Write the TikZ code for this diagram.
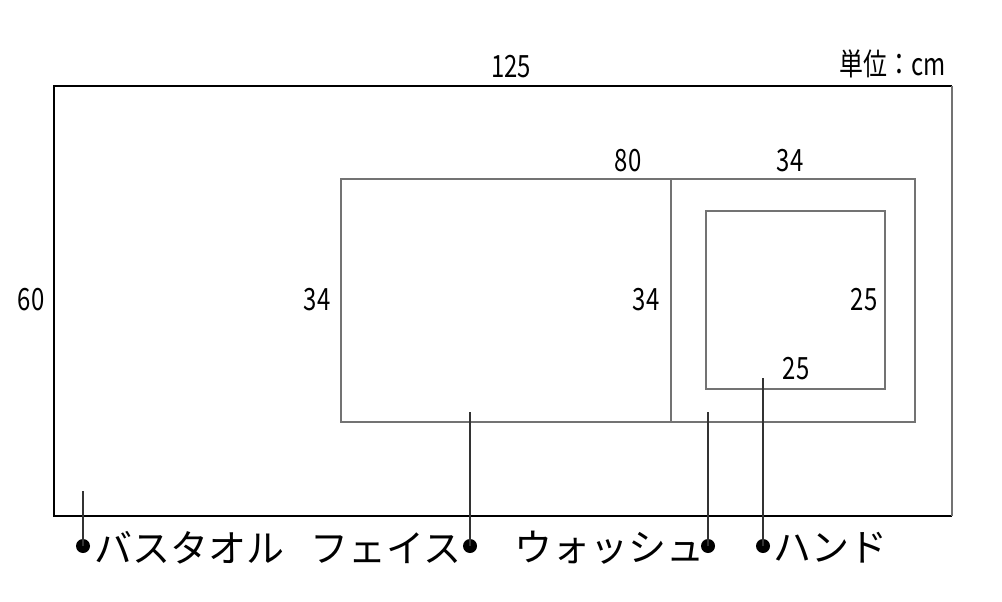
\documentclass[tikz,border=0pt]{standalone}
\usepackage{fontspec}
\setmainfont{Noto Sans CJK JP}
\newfontfamily\jpfont{Noto Sans CJK JP}
\begin{document}
\begin{tikzpicture}[x=0.75pt,y=-0.75pt,
  num/.style={inner sep=0pt,font=\fontsize{23}{23}\selectfont,xscale=0.78},
  lbl/.style={inner sep=0pt,font=\jpfont\fontsize{28.5}{28.5}\selectfont},
  dot/.style={circle,fill=black,inner sep=0pt,minimum size=10.5pt},
  gline/.style={draw=black!55,line width=1pt},
  bline/.style={draw=black,line width=1pt},
  leader/.style={draw=black!80,line width=1.2pt}]
\useasboundingbox[fill=white] (0,0) rectangle (1002,602);
% outer rectangle
\coordinate (o1) at (54,86);
\coordinate (o2) at (952,86);
\coordinate (o3) at (952,516);
\coordinate (o4) at (54,516);
\draw[bline] (o2) -- (o1) -- (o4) -- (o3);
\draw[gline] (o2) -- (o3);
% inner rectangles
\draw[gline] (341,179) rectangle (915,422);
\draw[gline] (671,179) -- (671,422);
\draw[gline] (706,211) rectangle (885,389);
% dimension labels
\node[num] (n125) at (511,67) {125};
\node[num] (unit) at (893,64) {単位：cm};
\node[num] (n80) at (628,161) {80};
\node[num] (n34a) at (790,161) {34};
\node[num] (n60) at (31,300) {60};
\node[num] (n34b) at (317,300) {34};
\node[num] (n34c) at (646,300) {34};
\node[num] (n25a) at (864,300) {25};
\node[num] (n25b) at (796,369) {25};
% leaders
\coordinate (s1) at (83,491);
\coordinate (s2) at (470,412);
\coordinate (s3) at (708,412);
\coordinate (s4) at (763,378);
\node[dot] (d1) at (83,546) {};
\node[dot] (d2) at (470,546) {};
\node[dot] (d3) at (708,546) {};
\node[dot] (d4) at (763,546) {};
\draw[leader] (s1) -- (d1.center);
\draw[leader] (s2) -- (d2.center);
\draw[leader] (s3) -- (d3.center);
\draw[leader] (s4) -- (d4.center);
% bottom labels
\node[lbl] (t1) at (189,548) {バスタオル};
\node[lbl] (t2) at (386,548) {フェイス};
\node[lbl] (t3) at (609,548) {ウォッシュ};
\node[lbl] (t4) at (830,548) {ハンド};
\end{tikzpicture}
\end{document}
